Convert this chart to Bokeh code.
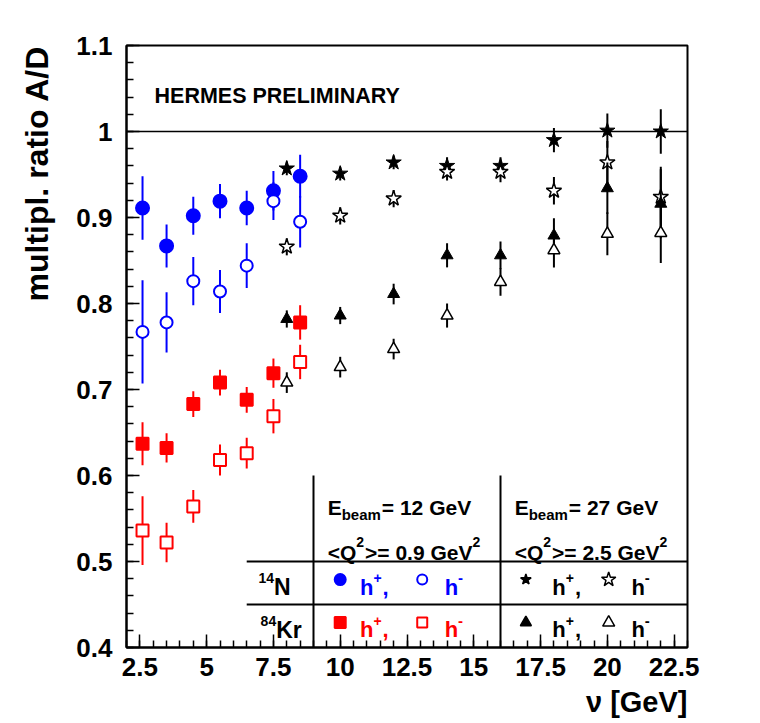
import math
from bokeh.plotting import figure
from bokeh.models import (ColumnDataSource, FixedTicker, CustomJSTickFormatter,
                          Span, Title)
from bokeh.core.properties import value
from bokeh.embed import file_html
from bokeh.resources import INLINE

# ---------------- data ----------------
# E_beam = 12 GeV
nu_12 = [2.6, 3.5, 4.5, 5.5, 6.5, 7.5, 8.5]
N_hp_12 = [0.911, 0.867, 0.902, 0.919, 0.911, 0.931, 0.948]
N_hp_12_err = [0.037, 0.025, 0.022, 0.020, 0.020, 0.023, 0.025]
N_hm_12 = [0.767, 0.778, 0.826, 0.814, 0.844, 0.919, 0.895]
N_hm_12_err = [0.060, 0.035, 0.028, 0.025, 0.026, 0.022, 0.030]
Kr_hp_12 = [0.637, 0.632, 0.683, 0.708, 0.688, 0.719, 0.778]
Kr_hp_12_err = [0.025, 0.017, 0.015, 0.015, 0.015, 0.017, 0.020]
Kr_hm_12 = [0.536, 0.522, 0.564, 0.618, 0.626, 0.669, 0.732]
Kr_hm_12_err = [0.040, 0.023, 0.019, 0.018, 0.018, 0.020, 0.020]

# E_beam = 27 GeV
nu_27 = [8, 10, 12, 14, 16, 18, 20, 22]
N_hp_27 = [0.957, 0.951, 0.964, 0.960, 0.960, 0.990, 1.001, 1.000]
N_hp_27_err = [0.008, 0.008, 0.008, 0.010, 0.010, 0.014, 0.020, 0.026]
N_hm_27 = [0.866, 0.902, 0.922, 0.953, 0.953, 0.931, 0.964, 0.924]
N_hm_27_err = [0.010, 0.010, 0.010, 0.010, 0.012, 0.016, 0.025, 0.035]
Kr_hp_27 = [0.782, 0.786, 0.811, 0.856, 0.856, 0.879, 0.934, 0.916]
Kr_hp_27_err = [0.010, 0.010, 0.012, 0.014, 0.016, 0.020, 0.030, 0.040]
Kr_hm_27 = [0.708, 0.726, 0.747, 0.786, 0.825, 0.862, 0.881, 0.882]
Kr_hm_27_err = [0.012, 0.012, 0.012, 0.014, 0.016, 0.020, 0.025, 0.035]

# ticks
x_ticks = [2.5, 5, 7.5, 10, 12.5, 15, 17.5, 20, 22.5]
x_minor = [2 + 0.5 * i for i in range(43)]
y_ticks = [0.4, 0.5, 0.6, 0.7, 0.8, 0.9, 1.0, 1.1]
y_minor = [round(0.4 + 0.02 * i, 2) for i in range(36)]

FONT = "Liberation Sans"
BLUE = "#0000ff"
RED = "#ff0000"
BLACK = "#000000"

p = figure(width=760, height=723, x_range=(2, 23), y_range=(0.4, 1.1),
           output_backend="svg", toolbar_location=None,
           min_border_left=126, min_border_right=73,
           min_border_top=45, min_border_bottom=76)
p.background_fill_color = "white"
p.border_fill_color = "white"
p.xgrid.visible = False
p.ygrid.visible = False
p.outline_line_color = "black"
p.outline_line_width = 2
p.outline_line_alpha = 1

fmt = CustomJSTickFormatter(code="return String(Math.round(tick*100)/100);")
for ax, tk, mn in ((p.xaxis[0], x_ticks, x_minor), (p.yaxis[0], y_ticks, y_minor)):
    ax.ticker = FixedTicker(ticks=tk, minor_ticks=mn)
    ax.formatter = fmt
    ax.axis_line_width = 2
    ax.major_tick_in = 13
    ax.major_tick_out = 0
    ax.minor_tick_in = 7
    ax.minor_tick_out = 0
    ax.major_tick_line_width = 1.5
    ax.minor_tick_line_width = 1.5
    ax.major_label_text_font = FONT
    ax.major_label_text_font_style = "bold"
    ax.major_label_text_font_size = "26px"
    ax.major_label_text_color = "black"
p.yaxis.major_label_standoff = 14
p.xaxis.major_label_standoff = 10

# reference line at ratio 1
p.add_layout(Span(location=1.0, dimension="width", line_color="black", line_width=1.5))

# table lines: (x0, y0, x1, y1)
tbl_x0 = [9, 16, 6.5, 6.5]
tbl_y0 = [0.4, 0.4, 0.5, 0.45]
tbl_x1 = [9, 16, 23, 23]
tbl_y1 = [0.6, 0.6, 0.5, 0.45]
p.segment(x0=tbl_x0, y0=tbl_y0, x1=tbl_x1, y1=tbl_y1, line_color="black", line_width=2)


def series(x, y, e, marker, color, filled, size, lw=2):
    src = ColumnDataSource(dict(x=x, y=y, lo=[a - b for a, b in zip(y, e)],
                                hi=[a + b for a, b in zip(y, e)]))
    p.segment(x0="x", y0="lo", x1="x", y1="hi", source=src,
              line_color=color, line_width=2)
    p.scatter(x="x", y="y", source=src, marker=marker, size=size,
              fill_color=color if filled else "white", line_color=color,
              line_width=lw)


series(nu_12, N_hp_12, N_hp_12_err, "circle", BLUE, True, 13)
series(nu_12, N_hm_12, N_hm_12_err, "circle", BLUE, False, 12)
series(nu_12, Kr_hp_12, Kr_hp_12_err, "square", RED, True, 12)
series(nu_12, Kr_hm_12, Kr_hm_12_err, "square", RED, False, 12)
series(nu_27, N_hp_27, N_hp_27_err, "star", BLACK, True, 16, 1)
series(nu_27, N_hm_27, N_hm_27_err, "star", BLACK, False, 16, 1.5)
series(nu_27, Kr_hp_27, Kr_hp_27_err, "triangle", BLACK, True, 12, 1)
series(nu_27, Kr_hm_27, Kr_hm_27_err, "triangle", BLACK, False, 12, 1.5)

# legend symbols inside the table
leg_x_12 = [10.0, 13.07]
leg_x_27 = [16.95, 20.05]
leg_y_N = 0.479
leg_y_Kr = 0.429
p.scatter(x=leg_x_12, y=[leg_y_N] * 2, marker="circle", size=[11, 10],
          fill_color=[BLUE, "white"], line_color=BLUE, line_width=2)
p.scatter(x=leg_x_12, y=[leg_y_Kr] * 2, marker="square", size=[11, 10],
          fill_color=[RED, "white"], line_color=RED, line_width=2)
p.scatter(x=leg_x_27, y=[leg_y_N] * 2, marker="star", size=[11, 15],
          fill_color=[BLACK, "white"], line_color=BLACK, line_width=1.5)
p.scatter(x=leg_x_27, y=[leg_y_Kr] * 2, marker="triangle", size=[11, 12],
          fill_color=[BLACK, "white"], line_color=BLACK, line_width=1.5)

# ---------------- rich text helper ----------------
W = {' ': 278, ',': 278, '-': 333, '.': 278, '/': 278, '<': 584, '=': 584,
     '>': 584, '+': 584, 'A': 722, 'D': 722, 'E': 667, 'G': 778, 'H': 722,
     'I': 278, 'K': 722, 'L': 611, 'M': 833, 'N': 722, 'P': 667, 'Q': 778,
     'R': 722, 'S': 667, 'V': 667, 'Y': 667, 'a': 556, 'b': 611, 'e': 556,
     'h': 611, 'i': 278, 'l': 278, 'm': 889, 'o': 611, 'p': 611, 'r': 389,
     't': 333, 'u': 611}


def tw(s, size):
    return sum(W.get(c, 556) for c in s) / 1000.0 * size


def rich(x, y, pieces, color):
    """pieces: (text, size_px, rise_px, gap_px)"""
    off = 0.0
    d = dict(x=[], y=[], t=[], fs=[], xo=[], yo=[])
    for text, size, rise, gap in pieces:
        off += gap
        d["x"].append(x)
        d["y"].append(y)
        d["t"].append(text)
        d["fs"].append(f"{size}px")
        d["xo"].append(off)
        d["yo"].append(-rise)
        off += tw(text, size)
    p.text(x="x", y="y", text="t", text_font_size="fs", x_offset="xo",
           y_offset="yo", source=ColumnDataSource(d), text_font=value(FONT),
           text_font_style="bold", text_color=color, text_align="left",
           text_baseline="alphabetic")


rich(3.05, 1.0415, [("HERMES PRELIMINARY", 21.5, 0, 0)], BLACK)

for xa, ebeam, q2 in ((9.53, "= 12 GeV", ">= 0.9 GeV"), (16.53, "= 27 GeV", ">= 2.5 GeV")):
    rich(xa, 0.563, [("E", 21, 0, 0), ("beam", 15, -7, 0), (ebeam, 21, 0, 1)], BLACK)
    rich(xa, 0.5105, [("<Q", 21, 0, 0), ("2", 14, 10, 0), (q2, 21, 0, 1), ("2", 14, 10, 0)], BLACK)

rich(6.94, 0.4702, [("14", 14, 9, 0), ("N", 23, 0, 0)], BLACK)
rich(7.02, 0.4206, [("84", 14, 9, 0), ("Kr", 23, 0, 0)], BLACK)

for yb, col12 in ((0.4702, BLUE), (0.4206, RED)):
    rich(10.74, yb, [("h", 22, 0, 0), ("+", 14, 9, 0), (",", 22, 0, 1)], col12)
    rich(13.91, yb, [("h", 22, 0, 0), ("-", 15, 9, 0)], col12)
    rich(17.94, yb, [("h", 22, 0, 0), ("+", 14, 9, 0), (",", 22, 0, 1)], BLACK)
    rich(20.9, yb, [("h", 22, 0, 0), ("-", 15, 9, 0)], BLACK)

# axis titles (right/top aligned like the original)
p.yaxis.axis_label = " "
p.yaxis.axis_label_text_font_size = "4px"
p.yaxis.axis_label_standoff = 6
p.add_layout(Title(text="\u03bd [GeV]", align="right", text_font=FONT,
                   text_font_style="bold", text_font_size="29px",
                   text_color="black"), "below")
p.add_layout(Title(text="multipl. ratio A/D", align="right", text_font=FONT,
                   text_font_style="bold", text_font_size="32px",
                   text_color="black"), "left")

open("out.html", "w").write(file_html(p, INLINE))
